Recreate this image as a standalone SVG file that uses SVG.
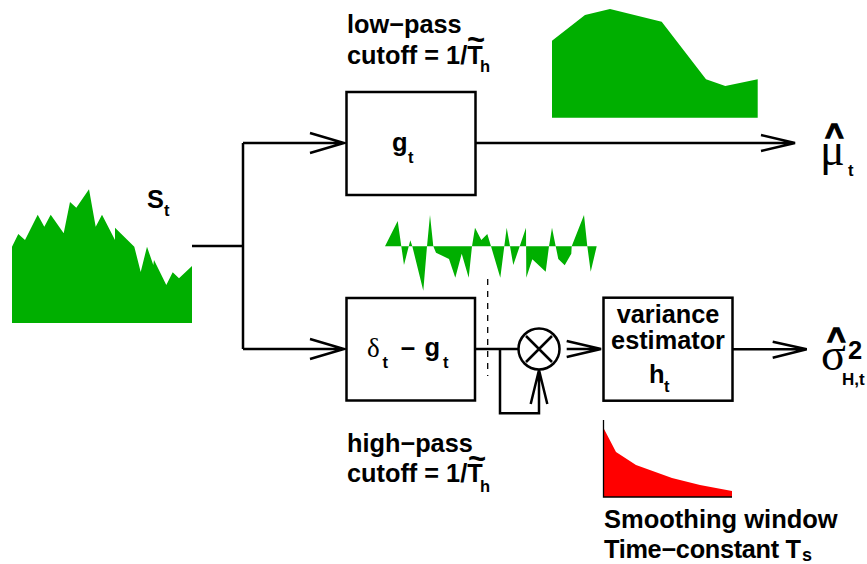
<svg xmlns="http://www.w3.org/2000/svg" width="867" height="564" viewBox="0 0 867 564">
<style>
text{font-family:"Liberation Sans",Arial,sans-serif;font-weight:bold;fill:#000}
.t{font-size:25.300px}.s{font-size:16.500px}.m{font-size:25.500px}
.g{font-family:"Liberation Serif","DejaVu Serif",serif;font-weight:normal}
.h{font-size:32px;stroke:#000;stroke-width:1.300px}
.box{fill:#fff;stroke:#000;stroke-width:2.500}
.w{fill:none;stroke:#000;stroke-width:2.500;stroke-linejoin:miter}
.g1{fill:#00af00}
</style>
<rect width="867" height="564" fill="#fff"/>
<g id="signal-st">
<polygon class="g1" points="12,323 12,246.7 18.3,234 25,240 37.7,214.7 44.3,226.7 50.7,214.7 63.7,233.3 70,202 76.3,207.7 89,189.3 95.7,226.7 102,214.7 115,240 115,227.7 134.3,246.7 140.7,272 147,246.7 153.3,265 154,260 166.3,285 172.7,272.3 179,278.3 192,266 192,323"/>
<text class="t" x="147" y="208">S</text><text class="s" x="164" y="216">t</text>
</g>
<g id="signal-lowpass">
<polygon class="g1" points="552,117.7 552,40.7 585,15 610,9 661.7,21.7 706,79.3 725.3,86 757.7,79.3 757.7,117.7"/>
</g>
<g id="signal-highpass">
<polygon class="g1" points="385,246.3 397.7,221 401.3,246.3 404,265 410.3,240.3 412.3,246.3 423.3,290.7 427,246.3 430,215 433.3,246.3 436,252.7 449,259 455.3,277.7 461.7,253.7 468.7,277.7 472,246.3 475,227.7 481.3,240 487.3,234 491,246.3 500.3,277.7 504.3,246.3 506.7,227.7 510,246.3 513.3,265 519.7,246.3 526,227.7 526.3,277.7 532.3,259.3 545.7,271.7 549,246.3 552,227.7 555.7,246.3 558.3,259 564.7,265.3 571.3,253.7 571.7,246.3 584,215 587.3,246.3 590.7,271.7 596.7,246.3"/>
</g>
<g id="connectors">
<path class="w" d="M192 246H243M243 143V349M243 143H344M310 133L344 143L310 153M243 349H344M310 339L344 349L310 359"/>
<path class="w" d="M475 143H795M761 135L795 143L761 151"/>
<path class="w" d="M475 349H518.500M500 349V413.300H539V370M530.700 404L539 370L547.300 404"/>
<path class="w" d="M566.700 349H601M566.700 341L601 349L566.700 357"/>
<path class="w" d="M732.300 349.300H806.700M772.700 341.700L806.700 349.300L772.700 357.700"/>
<path d="M487.700 279V376" fill="none" stroke="#000" stroke-width="1.300" stroke-dasharray="6 6"/>
</g>
<g id="node-gt">
<rect class="box" x="346.500" y="92" width="129" height="103"/>
<text class="m" x="392" y="151">g</text><text class="s" x="408" y="163">t</text>
</g>
<g id="node-highpass">
<rect class="box" x="346.500" y="298" width="128.500" height="102.500"/>
<text class="g" font-size="27" x="367" y="357">δ</text><text class="s" x="382.500" y="368">t</text>
<text class="m" x="400.500" y="357">−</text><text class="m" x="424.500" y="356">g</text><text class="s" x="443" y="368">t</text>
</g>
<g id="node-multiplier">
<circle cx="539" cy="349" r="20.500" fill="#fff" stroke="#000" stroke-width="2.500"/>
<path class="w" d="M526 336L552 362M552 336L526 362"/>
</g>
<g id="node-variance">
<rect class="box" x="603.500" y="297.700" width="129" height="103"/>
<text class="t" x="668" y="323" text-anchor="middle">variance</text>
<text class="t" x="668" y="349" text-anchor="middle">estimator</text>
<text class="m" x="649" y="383">h</text><text class="s" x="664" y="392">t</text>
</g>
<g id="label-lowpass">
<text class="t" x="347" y="33">low−pass</text>
<text class="t" x="347" y="64">cutoff = 1/T</text>
<text font-size="31" x="467" y="50">~</text>
<text class="s" x="480" y="72">h</text>
</g>
<g id="label-highpass">
<text class="t" x="347" y="452">high−pass</text>
<text class="t" x="347" y="482">cutoff = 1/T</text>
<text font-size="31" x="468" y="469">~</text>
<text class="s" x="480" y="492">h</text>
</g>
<g id="output-mu">
<text class="g" font-size="46" x="820" y="165">μ</text>
<text class="h" x="825" y="146">^</text>
<text class="s" x="848" y="176">t</text>
</g>
<g id="output-sigma">
<text class="g" font-size="46" x="821" y="370">σ</text>
<text class="h" x="827" y="350">^</text>
<text class="m" x="848" y="359">2</text>
<text font-size="17" x="842" y="385">H,t</text>
</g>
<g id="window">
<polygon points="603.500,428 616,452 636,465 672,478 700,485 732,491 732,497 603.500,497" fill="#f00"/>
<path d="M603.500 420V497H732" fill="none" stroke="#000" stroke-width="1.300"/>
</g>
<g id="label-window">
<text class="t" x="604" y="528" style="font-size:25.500px">Smoothing window</text>
<text class="t" x="604" y="558" letter-spacing="-0.300">Time−constant T</text>
<text font-size="18" x="802" y="561">s</text>
</g>
</svg>
